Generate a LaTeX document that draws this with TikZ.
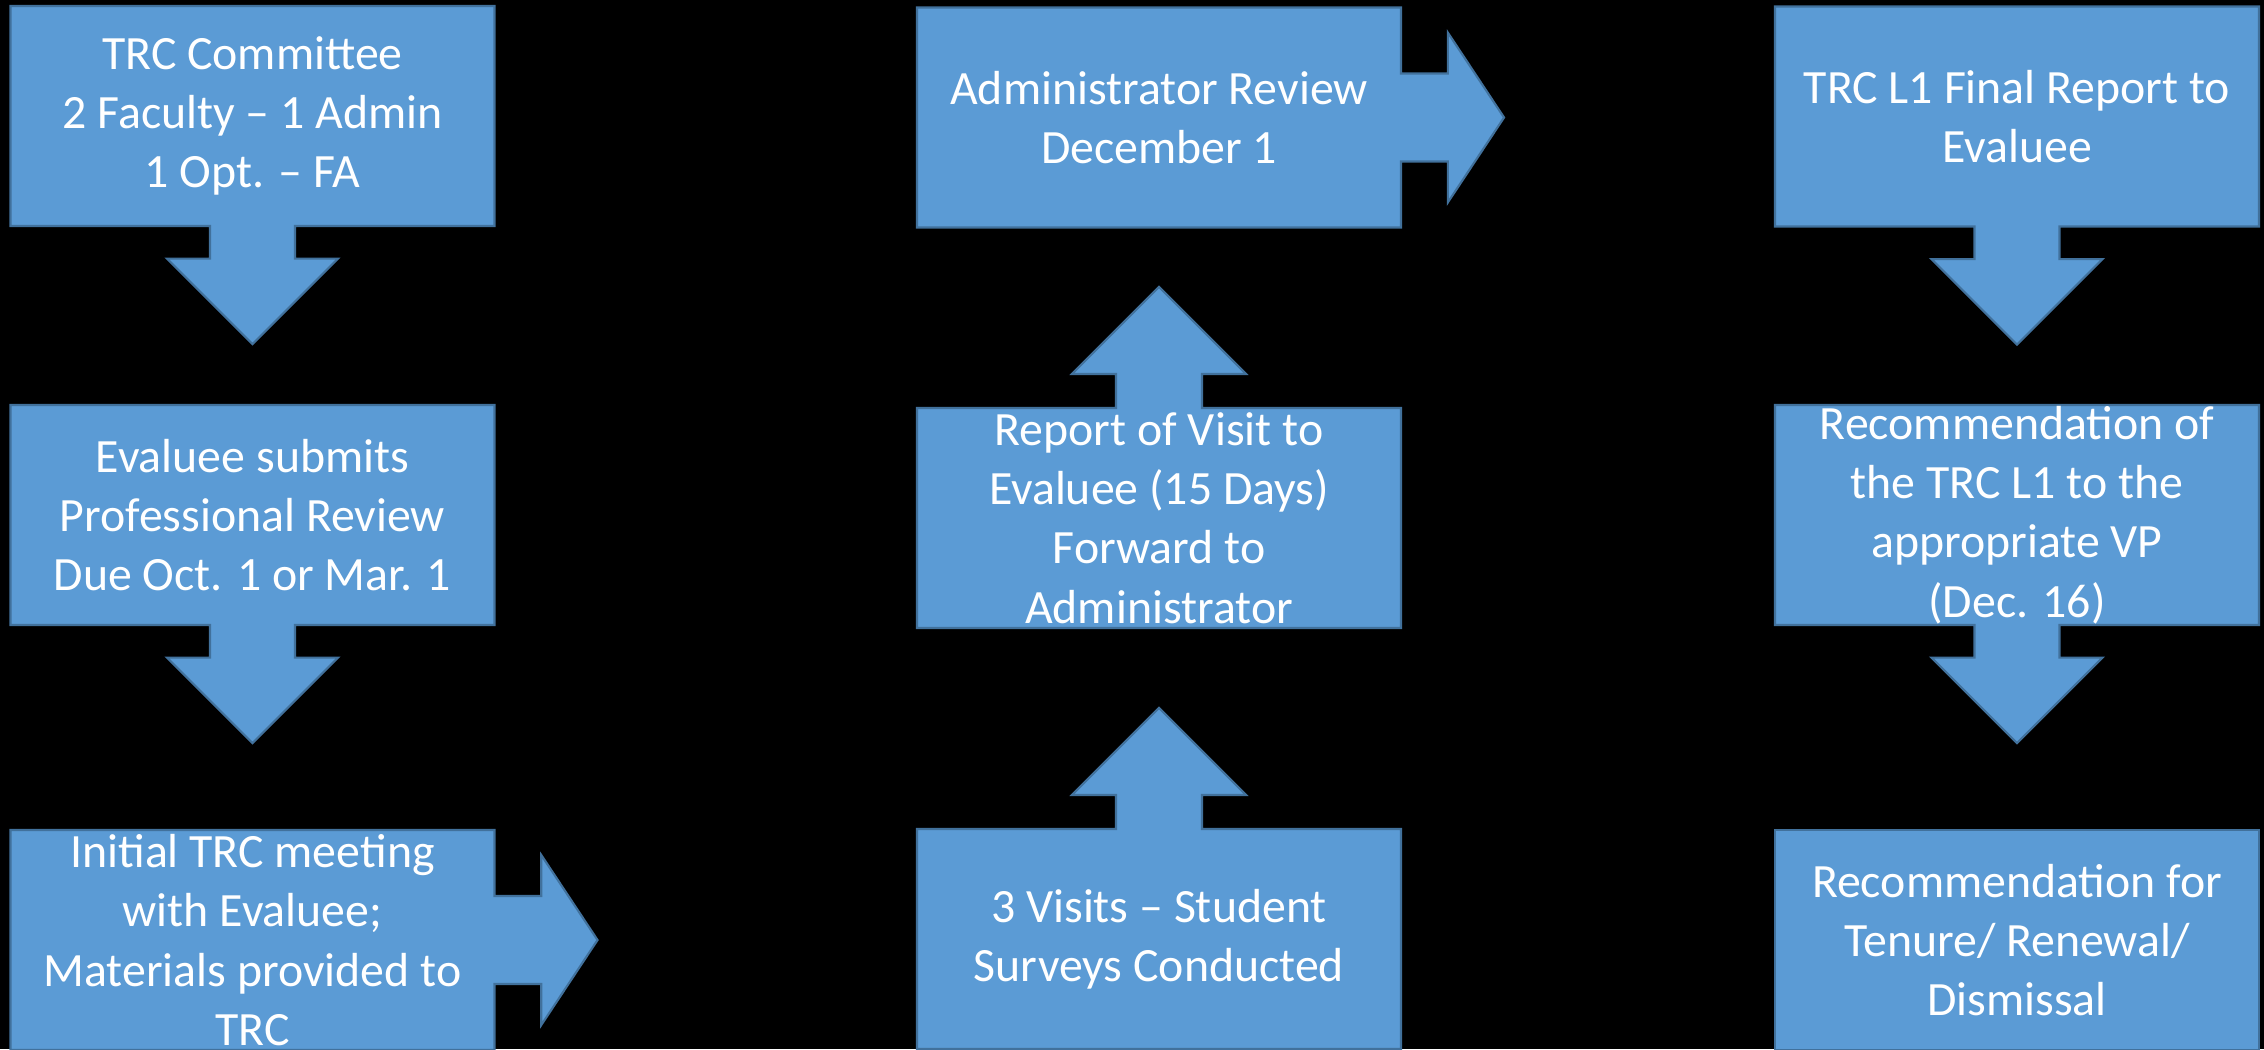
\documentclass[tikz,border=0pt]{standalone}
\usepackage{fontspec}
\setmainfont{Carlito}
\usetikzlibrary{shapes.arrows}
\definecolor{boxB}{RGB}{91,155,213}
\definecolor{boxE}{RGB}{65,113,156}
\tikzset{
  stage/.style={arrow box, draw=boxE, fill=boxB, line width=0.6pt, text=white,
    font=\fontsize{13.6}{16.9}\selectfont, align=center, inner sep=0pt,
    minimum width=48.4mm, minimum height=22mm},
  downA/.style={arrow box arrows={south:11.7mm}, arrow box shaft width=8.5mm,
    arrow box head extend=4.3mm, arrow box tip angle=90},
  upA/.style={arrow box arrows={north:12mm}, arrow box shaft width=8.6mm,
    arrow box head extend=4.4mm, arrow box tip angle=90},
  rightA/.style={arrow box arrows={east:10.2mm}, arrow box shaft width=8.8mm,
    arrow box head extend=4.1mm, arrow box tip angle=113}
}
\begin{document}
\begin{tikzpicture}[x=0.1mm, y=-0.1mm]
\path[use as bounding box, fill=black] (0,0) rectangle (2264,1049);
\clip (0,0) rectangle (2264,1049);
% first column: committee, submission, meeting
\node[stage, downA] (cmte) at (252.5,116) {TRC Committee\\2 Faculty – 1 Admin\\1 Opt. – FA};
\node[stage, downA] (submit) at (252.5,515) {Evaluee submits\\Professional Review\\Due Oct. 1 or Mar. 1};
\node[stage, rightA] (meet) at (252.5,940) {Initial TRC meeting\\with Evaluee;\\Materials provided to\\TRC};
% second column runs upwards
\node[stage, upA] (visits) at (1159,939) {3 Visits – Student\\Surveys Conducted};
\node[stage, upA] (report) at (1159,518) {Report of Visit to\\Evaluee (15 Days)\\Forward to\\Administrator};
\node[stage, rightA] (admin) at (1159,117.5) {Administrator Review\\December 1};
% third column
\node[stage, downA] (final) at (2017,116.5) {TRC L1 Final Report to\\Evaluee};
\node[stage, downA] (recvp) at (2017,515) {Recommendation of\\the TRC L1 to the\\appropriate VP\\(Dec. 16)};
\node[stage, rectangle] (outcome) at (2017,940) {Recommendation for\\Tenure/ Renewal/\\Dismissal};
\end{tikzpicture}
\end{document}
